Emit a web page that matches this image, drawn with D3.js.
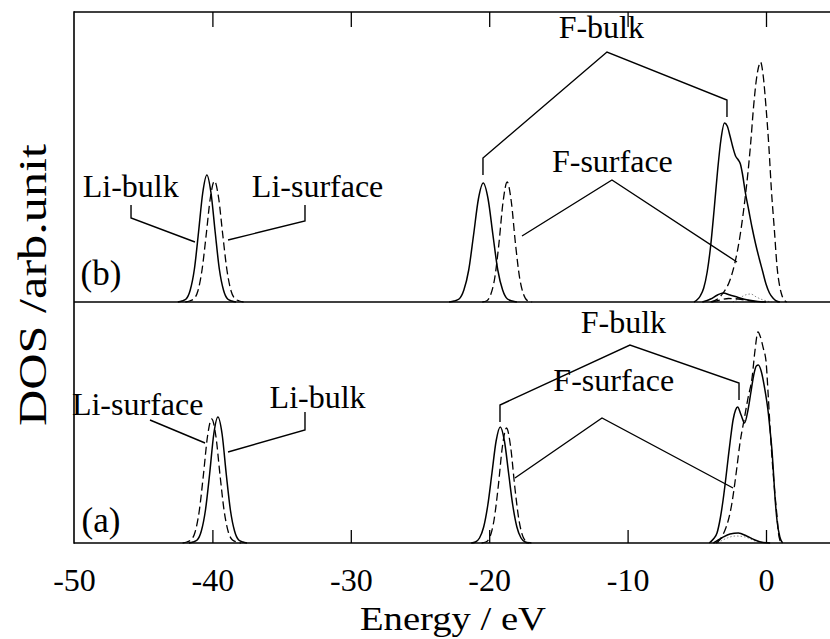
<!DOCTYPE html>
<html>
<head>
<meta charset="utf-8">
<script src="https://cdn.jsdelivr.net/npm/d3@7"></script>
<style>
  html, body { margin: 0; padding: 0; background: #fff; }
  svg { display: block; }
</style>
</head>
<body>
<svg id="chart" width="830" height="639"></svg>
<script>
// ---- energy axis ----
const energyTicks = [-50, -40, -30, -20, -10, 0];

// ---- panel (b): DOS curves, [energy eV, DOS arb. unit] ----
const bLiBulk = [[-42.5,0],[-42.2,0.01],[-41.9,0.03],[-41.6,0.12],[-41.3,0.33],[-41.0,0.70],[-40.7,1.09],[-40.4,1.27],[-40.1,1.09],[-39.8,0.70],[-39.5,0.33],[-39.2,0.12],[-38.9,0.03],[-38.6,0.01],[-38.3,0]];
const bLiSurf = [[-41.95,0],[-41.65,0.01],[-41.35,0.03],[-41.05,0.11],[-40.75,0.32],[-40.45,0.67],[-40.15,1.04],[-39.85,1.21],[-39.55,1.04],[-39.25,0.67],[-38.95,0.32],[-38.65,0.11],[-38.35,0.03],[-38.05,0.01],[-37.75,0]];
const bFBulkDeep = [[-22.9,0],[-22.53,0.01],[-22.18,0.03],[-21.83,0.12],[-21.48,0.32],[-21.13,0.67],[-20.78,1.03],[-20.43,1.19],[-20.08,1.03],[-19.73,0.67],[-19.38,0.32],[-19.03,0.12],[-18.68,0.03],[-18.33,0.01],[-18.0,0]];
const bFSurfDeep = [[-20.5,0],[-20.2,0.01],[-19.9,0.07],[-19.6,0.24],[-19.3,0.58],[-19.0,1.00],[-18.7,1.20],[-18.4,1.00],[-18.1,0.58],[-17.8,0.24],[-17.5,0.07],[-17.2,0.01],[-16.9,0]];
const bFBulkVal = [[-5.2,0],[-5.0,0.02],[-4.75,0.06],[-4.5,0.14],[-4.25,0.30],[-4.0,0.56],[-3.75,0.92],[-3.5,1.31],[-3.25,1.63],[-3.0,1.79],[-2.8,1.76],[-2.6,1.66],[-2.4,1.55],[-2.2,1.46],[-2.0,1.42],[-1.85,1.38],[-1.7,1.28],[-1.5,1.10],[-1.25,0.92],[-1.0,0.74],[-0.75,0.58],[-0.5,0.44],[-0.25,0.31],[0.0,0.18],[0.25,0.09],[0.5,0.04],[0.75,0.01],[1.0,0]];
const bFSurfVal = [[-4.0,0],[-3.5,0.03],[-3.1,0.09],[-2.6,0.22],[-2.25,0.39],[-1.9,0.64],[-1.7,0.83],[-1.5,1.05],[-1.3,1.30],[-1.1,1.60],[-0.9,1.95],[-0.7,2.22],[-0.5,2.37],[-0.4,2.40],[-0.2,2.26],[0.0,1.95],[0.2,1.57],[0.4,1.10],[0.6,0.73],[0.8,0.35],[1.0,0.15],[1.1,0.09],[1.3,0.02],[1.5,0]];
const bBulkTail = [[-4.6,0],[-4.0,0.03],[-3.5,0.07],[-3.1,0.09],[-2.6,0.07],[-2.0,0.045],[-1.3,0.02],[-0.6,0.005],[0,0]];
const bSurfTail = [[-3.9,0],[-3.3,0.02],[-2.7,0.035],[-2.0,0.03],[-1.3,0.015],[-0.6,0]];
const bOther = [[-2.4,0],[-1.9,0.04],[-1.5,0.07],[-1.1,0.08],[-0.7,0.05],[-0.2,0.02],[0.4,0]];

// ---- panel (a): DOS curves ----
const aLiBulk = [[-41.7,0],[-41.4,0.01],[-41.1,0.03],[-40.8,0.12],[-40.5,0.33],[-40.2,0.69],[-39.9,1.09],[-39.6,1.26],[-39.3,1.09],[-39.0,0.69],[-38.7,0.33],[-38.4,0.12],[-38.1,0.03],[-37.8,0.01],[-37.5,0]];
const aLiSurf = [[-42.15,0],[-41.85,0.01],[-41.55,0.03],[-41.25,0.11],[-40.95,0.32],[-40.65,0.68],[-40.35,1.07],[-40.05,1.24],[-39.75,1.07],[-39.45,0.68],[-39.15,0.32],[-38.85,0.11],[-38.55,0.03],[-38.25,0.01],[-37.95,0]];
const aFBulkDeep = [[-21.3,0],[-21.0,0.01],[-20.7,0.05],[-20.4,0.16],[-20.1,0.38],[-19.8,0.70],[-19.5,1.02],[-19.2,1.16],[-18.9,1.02],[-18.6,0.70],[-18.3,0.38],[-18.0,0.16],[-17.7,0.05],[-17.4,0.01],[-17.1,0]];
const aFSurfDeep = [[-20.55,0],[-20.25,0.01],[-19.95,0.06],[-19.65,0.23],[-19.35,0.56],[-19.05,0.96],[-18.75,1.15],[-18.45,0.96],[-18.15,0.56],[-17.85,0.23],[-17.55,0.06],[-17.25,0.01],[-16.95,0]];
const aFBulkVal = [[-4.1,0],[-3.8,0.04],[-3.54,0.10],[-3.3,0.25],[-3.1,0.43],[-2.9,0.65],[-2.75,0.83],[-2.55,1.06],[-2.38,1.23],[-2.2,1.33],[-2.05,1.36],[-1.8,1.28],[-1.55,1.20],[-1.3,1.33],[-1.1,1.50],[-0.9,1.67],[-0.7,1.77],[-0.55,1.78],[-0.35,1.72],[-0.1,1.55],[0.14,1.33],[0.3,1.12],[0.43,0.93],[0.55,0.68],[0.65,0.46],[0.8,0.22],[1.0,0.06],[1.2,0]];
const aFSurfVal = [[-3.6,0],[-3.3,0.04],[-2.96,0.13],[-2.7,0.24],[-2.46,0.40],[-2.25,0.60],[-2.1,0.76],[-1.88,1.00],[-1.6,1.22],[-1.3,1.45],[-1.0,1.66],[-0.8,1.92],[-0.58,2.11],[-0.4,2.06],[-0.2,1.95],[0.0,1.82],[0.15,1.50],[0.29,1.16],[0.4,0.92],[0.5,0.73],[0.65,0.48],[0.8,0.26],[0.9,0.10],[1.0,0.03],[1.1,0]];
const aBulkTail = [[-3.8,0],[-3.2,0.05],[-2.6,0.09],[-2.0,0.10],[-1.4,0.07],[-0.8,0.03],[-0.2,0.005],[0.3,0]];
const aOther = [[-3.5,0],[-2.8,0.05],[-2.2,0.07],[-1.5,0.06],[-0.8,0.02],[-0.2,0]];

// ---- labels and their leader lines, in (energy, DOS) coordinates ----
const bLabels = [
  { text: "Li-bulk",    at: [-45.9, 1.05], lead: [[-45.88,0.97],[-45.88,0.84],[-41.26,0.60]] },
  { text: "Li-surface", at: [-32.4, 1.05], lead: [[-33.31,0.97],[-33.31,0.81],[-38.87,0.62]] },
  { text: "F-bulk",     at: [-11.9, 2.64], lead: [[-20.45,1.27],[-20.45,1.44],[-11.49,2.50],[-2.82,2.02],[-2.82,1.85]] },
  { text: "F-surface",  at: [-11.1, 1.30], lead: [[-17.63,0.66],[-11.13,1.22],[-2.10,0.40]] }
];
const aLabels = [
  { text: "Li-surface", at: [-45.4, 1.28], lead: [[-44.51,1.23],[-40.53,1.00]] },
  { text: "Li-bulk",    at: [-32.4, 1.35], lead: [[-33.31,1.31],[-33.31,1.13],[-38.87,0.91]] },
  { text: "F-bulk",     at: [-10.3, 2.10], lead: [[-19.22,1.21],[-19.22,1.38],[-9.83,1.98],[-1.95,1.60],[-1.95,1.43]] },
  { text: "F-surface",  at: [-11.0, 1.52], lead: [[-18.14,0.65],[-11.85,1.25],[-2.38,0.55]] }
];

// ---- layout ----
const FONT = "'Liberation Serif', 'DejaVu Serif', 'Times New Roman', serif";
const svg = d3.select("#chart");
const x = d3.scaleLinear().domain([-50, 5]).range([74, 74 + 55 * 13.84]);
const yB = d3.scaleLinear().domain([0, 2.9]).range([302, 12]);
const yA = d3.scaleLinear().domain([0, 2.41]).range([543, 302]);

const solid = { stroke: "#000", width: 1.5, dash: null };
const dashed = { stroke: "#000", width: 1.3, dash: "8,4" };
const dotted = { stroke: "#888", width: 1, dash: "1.5,2" };

function drawCurve(data, y, style) {
  const line = d3.line().x(d => x(d[0])).y(d => y(d[1])).curve(d3.curveMonotoneX);
  svg.append("path")
    .datum(data)
    .attr("d", line)
    .attr("fill", "none")
    .attr("stroke", style.stroke)
    .attr("stroke-width", style.width)
    .attr("stroke-dasharray", style.dash)
    .attr("stroke-linejoin", "round");
}

// panel (b)
[[bOther, dotted], [bSurfTail, dashed], [bBulkTail, solid],
 [bLiSurf, dashed], [bLiBulk, solid], [bFSurfDeep, dashed], [bFBulkDeep, solid],
 [bFSurfVal, dashed], [bFBulkVal, solid]].forEach(([d, s]) => drawCurve(d, yB, s));

// panel (a)
[[aOther, dotted], [aBulkTail, solid],
 [aLiSurf, dashed], [aLiBulk, solid], [aFSurfDeep, dashed], [aFBulkDeep, solid],
 [aFSurfVal, dashed], [aFBulkVal, solid]].forEach(([d, s]) => drawCurve(d, yA, s));

// frame: top edge, left edge, panel divider, bottom edge
const frame = svg.append("g").attr("stroke", "#000").attr("stroke-width", 1.6).attr("fill", "none");
frame.append("line").attr("x1", x(-50)).attr("x2", x(5)).attr("y1", yB(2.9)).attr("y2", yB(2.9));
frame.append("line").attr("x1", x(-50)).attr("x2", x(-50)).attr("y1", yB(2.9) - 0.8).attr("y2", yA(0) + 0.8);
frame.append("line").attr("x1", x(-50)).attr("x2", x(5)).attr("y1", yB(0)).attr("y2", yB(0));
frame.append("line").attr("x1", x(-50)).attr("x2", x(5)).attr("y1", yA(0)).attr("y2", yA(0));

// inward ticks along top and bottom
const innerTicks = energyTicks.filter(t => t > -50);
svg.append("g").attr("transform", `translate(0,${yB(2.9)})`)
  .call(d3.axisBottom(x).tickValues(innerTicks).tickSize(15).tickFormat(""))
  .call(g => g.select(".domain").remove())
  .call(g => g.selectAll("line").attr("stroke-width", 1.3));
svg.append("g").attr("transform", `translate(0,${yA(0)})`)
  .call(d3.axisTop(x).tickValues(innerTicks).tickSize(13).tickFormat(""))
  .call(g => g.select(".domain").remove())
  .call(g => g.selectAll("line").attr("stroke-width", 1.3));

// tick labels
svg.append("g").attr("transform", `translate(0,${yA(0)})`)
  .call(d3.axisBottom(x).tickValues(energyTicks).tickSize(0).tickPadding(25).tickFormat(d => String(d)))
  .call(g => g.select(".domain").remove())
  .call(g => g.attr("font-family", FONT).attr("font-size", 32))
  .call(g => g.selectAll("text").attr("font-family", FONT).attr("font-size", 32).attr("fill", "#000"));

// axis titles
svg.append("text").attr("x", 453).attr("y", 630).attr("text-anchor", "middle")
  .attr("font-family", FONT).attr("font-size", 34)
  .attr("textLength", 186).attr("lengthAdjust", "spacingAndGlyphs")
  .text("Energy / eV");
svg.append("text").attr("transform", "translate(46,285) rotate(-90)").attr("text-anchor", "middle")
  .attr("font-family", FONT).attr("font-size", 40)
  .attr("textLength", 282).attr("lengthAdjust", "spacingAndGlyphs")
  .text("DOS /arb.unit");

// panel tags
svg.append("text").attr("x", x(-48.05)).attr("y", yB(0.17)).attr("text-anchor", "middle")
  .attr("font-family", FONT).attr("font-size", 35).text("(b)");
svg.append("text").attr("x", x(-48.05)).attr("y", yA(0.11)).attr("text-anchor", "middle")
  .attr("font-family", FONT).attr("font-size", 35).text("(a)");

// peak labels with leader lines
function drawLabels(labels, y) {
  const g = svg.append("g");
  labels.forEach(l => {
    g.append("text").attr("x", x(l.at[0])).attr("y", y(l.at[1]))
      .attr("text-anchor", "middle").attr("font-family", FONT).attr("font-size", 32).text(l.text);
    g.append("path")
      .attr("d", d3.line().x(d => x(d[0])).y(d => y(d[1]))(l.lead))
      .attr("fill", "none").attr("stroke", "#000").attr("stroke-width", 1.4);
  });
}
drawLabels(bLabels, yB);
drawLabels(aLabels, yA);
</script>
</body>
</html>
